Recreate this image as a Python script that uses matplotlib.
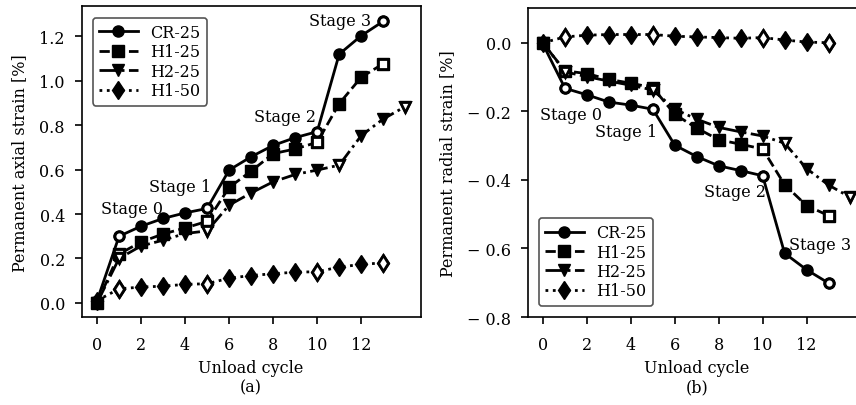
import numpy as np
import matplotlib
matplotlib.use("Agg")
import matplotlib.pyplot as plt
from matplotlib.ticker import FuncFormatter

plt.rcParams['font.family'] = ['DejaVu Serif']
plt.rcParams['font.size'] = 11.5

# Permanent axial strain [%] per unload cycle
axial_cr25 = [0.01, 0.30, 0.345, 0.38, 0.405, 0.425, 0.598, 0.658, 0.709, 0.744, 0.771, 1.12, 1.203, 1.268]
axial_h125 = [0.0, 0.22, 0.274, 0.31, 0.337, 0.367, 0.52, 0.593, 0.672, 0.693, 0.723, 0.897, 1.016, 1.077]
axial_h225 = [0.0, 0.20, 0.256, 0.282, 0.312, 0.324, 0.44, 0.495, 0.545, 0.578, 0.598, 0.62, 0.753, 0.828, 0.884]
axial_h150 = [0.01, 0.063, 0.071, 0.075, 0.083, 0.086, 0.111, 0.123, 0.131, 0.138, 0.14, 0.161, 0.173, 0.18]

# Permanent radial strain [%] per unload cycle
radial_cr25 = [-0.005, -0.133, -0.152, -0.173, -0.182, -0.194, -0.299, -0.332, -0.359, -0.373, -0.388, -0.614, -0.662, -0.701]
radial_h125 = [-0.002, -0.082, -0.09, -0.107, -0.118, -0.131, -0.209, -0.249, -0.283, -0.296, -0.31, -0.414, -0.475, -0.504]
radial_h225 = [0.0, -0.085, -0.099, -0.112, -0.124, -0.138, -0.194, -0.223, -0.247, -0.26, -0.272, -0.293, -0.367, -0.415, -0.451]
radial_h150 = [0.0, 0.017, 0.022, 0.024, 0.024, 0.024, 0.019, 0.017, 0.015, 0.013, 0.015, 0.008, 0.002, 0.0]

labels = ['CR-25', 'H1-25', 'H2-25', 'H1-50']
markers = ['o', 's', 'v', 'd']
styles = ['-', '--', '-.', ':']
msizes = [8, 8, 8.5, 9.5]
# cycles that close a stage are drawn hollow
stage_ends = [[1, 5, 10, 13], [1, 5, 10, 13], [1, 5, 11, 14], [1, 5, 10, 13]]

stage_names = ['Stage 0', 'Stage 1', 'Stage 2', 'Stage 3']
axial_text_pos = [(1.6, 0.425), (3.77, 0.524), (8.55, 0.84), (11.05, 1.273)]
radial_text_pos = [(1.26, -0.209), (3.77, -0.259), (8.73, -0.434), (12.6, -0.588)]


def draw(ax, series):
    for i, y in enumerate(series):
        x = np.arange(len(y))
        y = np.asarray(y)
        ax.plot(x, y, color='black', linestyle=styles[i], marker=markers[i],
                ms=msizes[i], lw=2, label=labels[i],
                markerfacecolor='black', markeredgecolor='black')
        idx = stage_ends[i]
        ax.plot(x[idx], y[idx], linestyle='none', marker=markers[i], ms=msizes[i] - 1.5,
                markerfacecolor='white', markeredgecolor='black', mew=2)


def spaced_minus(v, pos):
    s = '%.1f' % abs(v)
    return ('\u2212 ' + s) if v < -1e-9 else s


fig = plt.figure(figsize=(8.56, 4.06), dpi=100)
ax1 = fig.add_axes([0.0954, 0.2167, 0.396, 0.765])
ax2 = fig.add_axes([0.6165, 0.2167, 0.395, 0.760])

draw(ax1, [axial_cr25, axial_h125, axial_h225, axial_h150])
draw(ax2, [radial_cr25, radial_h125, radial_h225, radial_h150])

for name, (tx, ty) in zip(stage_names, axial_text_pos):
    ax1.text(tx, ty, name, ha='center', va='center')
for name, (tx, ty) in zip(stage_names, radial_text_pos):
    ax2.text(tx, ty, name, ha='center', va='center')

for ax in (ax1, ax2):
    ax.set_xticks(range(0, 13, 2))
    ax.set_xlim(-0.7, 14.7)
    ax.tick_params(length=5, width=1.2)
    ax.tick_params(axis='x', pad=9)
    ax.tick_params(axis='y', pad=7)
    for sp in ax.spines.values():
        sp.set_linewidth(1.2)

ax1.set_ylim(-0.064, 1.335)
ax2.set_ylim(-0.8, 0.1)
ax2.set_yticks(np.arange(-0.8, 0.01, 0.2))
ax2.yaxis.set_major_formatter(FuncFormatter(spaced_minus))
leg_kw = dict(handlelength=2.4, edgecolor='#555555', framealpha=1,
              borderpad=0.4, labelspacing=0.15, handletextpad=0.8, borderaxespad=0.7)
leg1 = ax1.legend(loc='upper left', **leg_kw)
leg2 = ax2.legend(loc='lower left', **leg_kw)
for leg in (leg1, leg2):
    leg.get_frame().set_linewidth(1.2)
ax1.set_xlabel('Unload cycle\n(a)', linespacing=1.2, labelpad=4)
ax2.set_xlabel('Unload cycle\n(b)', linespacing=1.2, labelpad=4)
ax1.set_ylabel('Permanent axial strain [%]', labelpad=8)
ax2.set_ylabel('Permanent radial strain [%]', labelpad=8)

fig.savefig('out.png', dpi=100)
